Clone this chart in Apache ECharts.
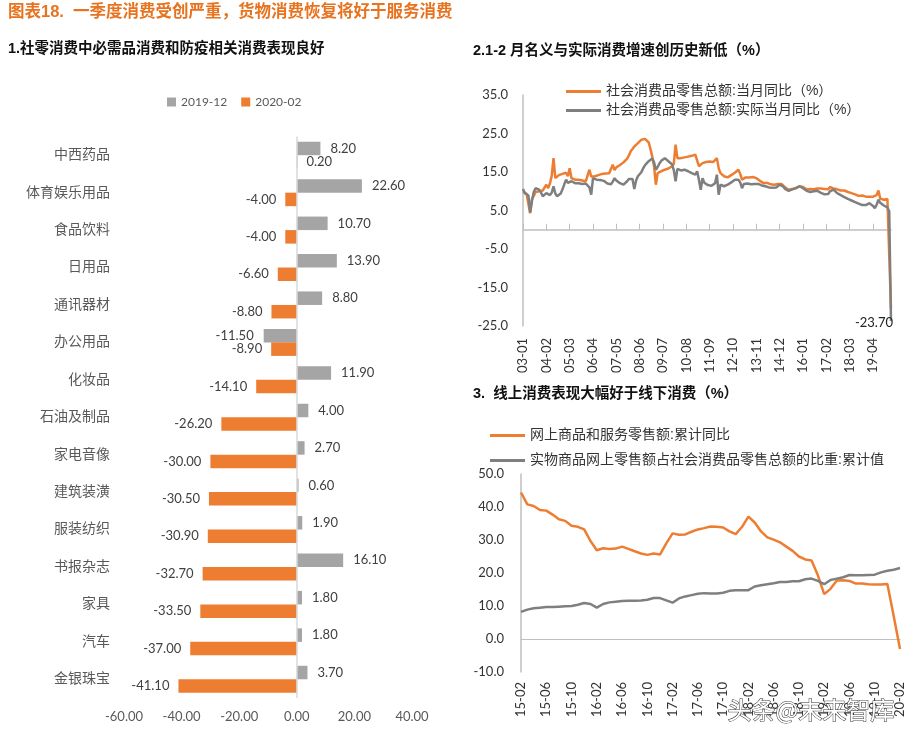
<!DOCTYPE html>
<html>
<head>
<meta charset="utf-8">
<script src="https://cdn.jsdelivr.net/npm/echarts@6/dist/echarts.min.js"></script>
<style>
  html, body { margin: 0; padding: 0; background: #fff; }
  #main { width: 916px; height: 740px; }
</style>
</head>
<body>
<div id="main"></div>
<script>
// 1. 分品类社零增速
var categories = ["中西药品", "体育娱乐用品", "食品饮料", "日用品", "通讯器材", "办公用品", "化妆品",
  "石油及制品", "家电音像", "建筑装潢", "服装纺织", "书报杂志", "家具", "汽车", "金银珠宝"];
var growth201912 = [8.2, 22.6, 10.7, 13.9, 8.8, -11.5, 11.9, 4.0, 2.7, 0.6, 1.9, 16.1, 1.8, 1.8, 3.7];
var growth202002 = [0.2, -4.0, -4.0, -6.6, -8.8, -8.9, -14.1, -26.2, -30.0, -30.5, -30.9, -32.7, -33.5, -37.0, -41.1];

// 2. 社零当月同比 2003-01 ~ 2020-02
var nominalMonthly = [
  10.0, 9.8, 9.3, 9.5, 4.3, 8.0, 8.8, 9.8, 10.2, 10.0,
  9.7, 10.2, 10.5, 11.7, 10.8, 12.0, 14.0, 18.6, 13.4, 13.8,
  14.2, 14.6, 14.5, 14.0, 14.8, 13.9, 16.0, 13.4, 13.0, 13.0,
  12.8, 13.0, 13.0, 12.8, 12.6, 12.6, 12.6, 15.6, 13.8, 14.0,
  13.9, 14.0, 14.2, 14.3, 14.5, 14.5, 14.6, 14.6, 14.7, 15.0,
  16.9, 15.5, 16.2, 16.4, 16.8, 17.1, 17.5, 17.9, 18.5, 19.3,
  20.4, 21.0, 21.6, 21.7, 22.5, 23.0, 23.4, 23.6, 23.6, 23.2,
  22.7, 21.0, 19.0, 16.5, 11.7, 14.7, 15.0, 15.2, 15.4, 15.6,
  15.9, 15.9, 16.2, 16.5, 17.1, 22.1, 18.6, 18.4, 18.6, 18.7,
  18.8, 18.9, 19.0, 18.8, 19.2, 19.1, 19.5, 18.0, 16.5, 17.0,
  17.3, 17.3, 17.6, 17.5, 17.7, 17.7, 17.6, 17.7, 18.6, 16.0,
  14.7, 14.2, 13.9, 13.5, 13.6, 14.0, 14.2, 14.5, 14.8, 15.2,
  15.6, 14.5, 13.0, 13.3, 13.6, 13.6, 13.6, 13.7, 13.7, 13.6,
  13.4, 13.5, 12.7, 12.5, 12.1, 12.3, 12.2, 11.9, 11.8, 11.9,
  11.7, 11.6, 11.9, 12.1, 11.9, 11.6, 11.0, 10.6, 10.4, 10.5,
  10.6, 10.7, 10.8, 11.0, 11.3, 11.2, 11.1, 10.8, 10.5, 10.4,
  10.6, 10.3, 10.5, 10.4, 10.7, 10.8, 10.7, 10.4, 10.6, 10.8,
  10.5, 11.1, 11.0, 10.7, 10.2, 10.5, 10.3, 10.2, 10.1, 10.2,
  10.0, 9.8, 9.7, 9.5, 9.4, 9.2, 9.0, 8.8, 9.0, 8.9,
  8.8, 8.6, 8.5, 8.6, 8.4, 8.6, 8.7, 9.0, 10.2, 8.1,
  7.9, 7.8, 8.0, 8.0, 7.9, -20.5
];
var realMonthly = [
  10.6, 9.5, 9.0, 8.9, 4.5, 7.5, 9.8, 10.8, 10.6, 10.4,
  9.7, 8.7, 8.9, 9.5, 9.2, 9.0, 9.6, 11.3, 9.4, 8.7,
  9.0, 9.4, 10.5, 11.8, 13.0, 12.2, 12.4, 12.6, 12.2, 12.1,
  12.1, 12.1, 11.9, 11.9, 11.7, 12.0, 12.3, 11.0, 9.1, 13.4,
  13.0, 13.0, 13.0, 12.9, 12.8, 12.7, 12.6, 12.0, 11.7, 11.8,
  12.5, 13.4, 12.8, 12.4, 12.1, 11.9, 11.7, 12.0, 12.6, 13.2,
  13.7, 13.2, 10.6, 12.8, 13.9, 14.3, 15.0, 16.0, 16.8, 17.3,
  17.8, 18.2, 18.5, 17.5, 15.6, 16.3, 17.2, 17.9, 18.4, 18.6,
  18.2, 17.8, 17.6, 17.0, 15.5, 12.6, 15.8, 15.6, 15.4, 15.5,
  15.6, 15.4, 15.2, 14.9, 14.7, 14.5, 14.3, 15.2, 13.0, 10.4,
  13.4, 12.2, 12.1, 11.6, 11.3, 11.4, 11.7, 12.1, 14.3, 9.1,
  11.7, 11.5, 11.3, 11.5, 11.7, 12.0, 12.3, 12.5, 13.0, 13.4,
  13.0, 12.3, 10.8, 11.9, 12.1, 12.0, 11.9, 11.8, 11.7, 11.9,
  12.1, 11.9, 11.7, 11.5, 11.3, 11.3, 11.2, 11.0, 10.9, 10.9,
  10.9, 11.0, 11.2, 11.7, 11.5, 11.2, 10.6, 10.3, 10.1, 10.3,
  10.5, 10.7, 10.8, 11.0, 11.3, 11.0, 10.8, 10.4, 10.1, 9.9,
  9.8, 9.9, 10.0, 10.1, 10.1, 9.9, 9.6, 9.5, 9.2, 8.7,
  9.3, 10.0, 10.3, 10.4, 10.0, 9.5, 9.2, 9.0, 8.7, 8.5,
  8.2, 8.0, 7.8, 7.6, 7.4, 7.2, 7.0, 6.8, 6.6, 6.4,
  6.1, 6.4, 6.7, 6.9, 6.6, 6.2, 5.6, 6.5, 7.8, 7.0,
  6.5, 6.3, 6.0, 5.8, 4.8, -23.7
];

// 3. 网上零售 2015-02 ~ 2020-02
var onlineGrowth = [
  44.4, 40.8, 40.3, 39.1, 38.9, 37.7, 36.3, 35.8, 34.3, 34.0,
  33.2, 29.7, 26.9, 27.5, 27.3, 27.4, 28.0, 27.3, 26.6, 25.9,
  25.5, 25.9, 25.6, 29.0, 32.0, 31.6, 31.7, 32.5, 33.2, 33.6,
  34.1, 34.0, 33.8, 32.6, 31.8, 34.0, 37.1, 35.3, 32.6, 30.8,
  30.1, 29.3, 28.0, 26.7, 25.0, 24.1, 23.8, 19.3, 13.6, 15.2,
  17.7, 17.8, 17.6, 16.8, 16.8, 16.6, 16.5, 16.5, 16.7, 7.0,
  -3.0
];
var physicalShare = [
  8.2, 8.9, 9.3, 9.5, 9.7, 9.7, 9.8, 9.9, 10.0, 10.4,
  10.9, 10.6, 9.5, 10.6, 11.1, 11.3, 11.5, 11.6, 11.6, 11.7,
  11.9, 12.4, 12.4, 11.7, 11.0, 12.3, 12.9, 13.3, 13.7, 13.9,
  13.8, 13.8, 14.0, 14.6, 14.8, 14.8, 14.8, 15.9, 16.3, 16.6,
  16.9, 17.3, 17.3, 17.5, 17.5, 18.1, 18.3, 17.6, 16.6, 17.9,
  18.3, 18.7, 19.4, 19.3, 19.3, 19.4, 19.5, 20.2, 20.7, 21.0,
  21.5
];

function monthLabels(year, month, count) {
  var out = [];
  for (var i = 0; i < count; i++) {
    out.push(String(year % 100).padStart(2, "0") + "-" + String(month).padStart(2, "0"));
    month++;
    if (month > 12) { month = 1; year++; }
  }
  return out;
}
var monthsTop = monthLabels(2003, 1, nominalMonthly.length);
var monthsBottom = monthLabels(2015, 2, onlineGrowth.length);

var ORANGE = "#ED7D31";
var BAR_GRAY = "#A5A5A5";
var LINE_GRAY = "#7F7F7F";
var AXIS_GRAY = "#BFBFBF";
var NUM_FONT = "Lato, 'Noto Sans CJK SC', sans-serif";
var CJK_FONT = "'Liberation Sans', 'Noto Sans CJK SC', sans-serif";

function barData(arr) {
  return arr.map(function (v) {
    return { value: v, label: { position: v < 0 ? "left" : "right" } };
  });
}

var chart = echarts.init(document.getElementById("main"));
chart.setOption({
  backgroundColor: "#fff",
  animation: false,
  textStyle: { fontFamily: CJK_FONT },
  title: [
    { text: "图表18.  一季度消费受创严重，货物消费恢复将好于服务消费", left: 8, top: 4, padding: 0,
      textStyle: { color: "#E8731E", fontSize: 16.5, fontWeight: "bold", fontFamily: CJK_FONT } },
    { text: "1.社零消费中必需品消费和防疫相关消费表现良好", left: 8, top: 42, padding: 0,
      textStyle: { color: "#111", fontSize: 14.5, fontWeight: "bold", fontFamily: CJK_FONT } },
    { text: "2.1-2 月名义与实际消费增速创历史新低（%）", left: 473, top: 44, padding: 0,
      textStyle: { color: "#111", fontSize: 14.5, fontWeight: "bold", fontFamily: CJK_FONT } },
    { text: "3.  线上消费表现大幅好于线下消费（%）", left: 473, top: 387, padding: 0,
      textStyle: { color: "#111", fontSize: 14.5, fontWeight: "bold", fontFamily: CJK_FONT } }
  ],
  legend: [
    { data: ["2019-12", "2020-02"], left: 167, top: 96, padding: 0, icon: "rect",
      itemWidth: 9, itemHeight: 9, itemGap: 14,
      textStyle: { fontSize: 12, color: "#595959", fontFamily: NUM_FONT } },
    { data: ["社会消费品零售总额:当月同比（%）", "社会消费品零售总额:实际当月同比（%）"],
      orient: "vertical", left: 566, top: 83, padding: 0, icon: "rect",
      itemWidth: 35, itemHeight: 3, itemGap: 2,
      textStyle: { fontSize: 14, color: "#333", lineHeight: 17, fontFamily: CJK_FONT } },
    { data: ["网上商品和服务零售额:累计同比", "实物商品网上零售额占社会消费品零售总额的比重:累计值"],
      orient: "vertical", left: 490, top: 427, padding: 0, icon: "rect",
      itemWidth: 35, itemHeight: 3, itemGap: 8,
      textStyle: { fontSize: 14, color: "#333", lineHeight: 17, fontFamily: CJK_FONT } }
  ],
  grid: [
    { left: 124, right: 504, top: 136.5, bottom: 42 },
    { left: 523, right: 25, top: 95, bottom: 414 },
    { left: 521, right: 16, top: 474, bottom: 68 }
  ],
  xAxis: [
    { gridIndex: 0, type: "value", min: -60, max: 40, interval: 20,
      axisLine: { show: false }, axisTick: { show: false }, splitLine: { show: false },
      axisLabel: { margin: 12, fontSize: 13, color: "#595959", fontFamily: NUM_FONT,
        formatter: function (v) { return v.toFixed(2); } } },
    { gridIndex: 1, type: "category", data: monthsTop, boundaryGap: false,
      axisLine: { onZero: true, lineStyle: { color: AXIS_GRAY, width: 1.5 } },
      axisTick: { show: true, inside: true, length: 6, interval: 12, lineStyle: { color: AXIS_GRAY } },
      axisLabel: { show: false }, splitLine: { show: false } },
    { gridIndex: 1, type: "category", data: monthsTop, boundaryGap: false, position: "bottom",
      axisLine: { show: false, onZero: false }, axisTick: { show: false },
      axisLabel: { rotate: 90, interval: 12, margin: 12, fontSize: 13, color: "#333", fontFamily: NUM_FONT } },
    { gridIndex: 2, type: "category", data: monthsBottom, boundaryGap: false,
      axisLine: { onZero: true, lineStyle: { color: AXIS_GRAY, width: 1.2 } },
      axisTick: { show: false }, axisLabel: { show: false }, splitLine: { show: false } },
    { gridIndex: 2, type: "category", data: monthsBottom, boundaryGap: false, position: "bottom",
      axisLine: { show: false, onZero: false }, axisTick: { show: false },
      axisLabel: { rotate: 90, interval: 3, margin: 10, fontSize: 13, color: "#333", fontFamily: NUM_FONT } }
  ],
  yAxis: [
    { gridIndex: 0, type: "category", data: categories, inverse: true,
      axisLine: { show: false, onZero: false }, axisTick: { show: false },
      axisLabel: { margin: 14, fontSize: 14, color: "#595959", fontFamily: CJK_FONT } },
    { gridIndex: 1, type: "value", min: -25, max: 35, interval: 10,
      axisLine: { show: true, lineStyle: { color: AXIS_GRAY, width: 1.5 } },
      axisTick: { show: false }, splitLine: { show: false },
      axisLabel: { margin: 15, fontSize: 13, color: "#333", fontFamily: NUM_FONT,
        formatter: function (v) { return v.toFixed(1); } } },
    { gridIndex: 2, type: "value", min: -10, max: 50, interval: 10,
      axisLine: { show: true, lineStyle: { color: AXIS_GRAY, width: 1.5 } },
      axisTick: { show: false }, splitLine: { show: false },
      axisLabel: { margin: 17, fontSize: 13, color: "#333", fontFamily: NUM_FONT,
        formatter: function (v) { return v.toFixed(1); } } }
  ],
  series: [
    { name: "2019-12", type: "bar", xAxisIndex: 0, yAxisIndex: 0, data: barData(growth201912),
      barWidth: 13.5, barGap: "0%", itemStyle: { color: BAR_GRAY },
      label: { show: true, distance: 10, fontSize: 13, color: "#404040", fontFamily: NUM_FONT,
        formatter: function (p) { return p.value.toFixed(2); } },
      markLine: { silent: true, symbol: "none", label: { show: false },
        lineStyle: { color: "#D9D9D9", type: "solid", width: 1.5 }, data: [{ xAxis: 0 }] } },
    { name: "2020-02", type: "bar", xAxisIndex: 0, yAxisIndex: 0, data: barData(growth202002),
      barWidth: 13.5, barGap: "0%", itemStyle: { color: ORANGE },
      label: { show: true, distance: 9, fontSize: 13, color: "#404040", fontFamily: NUM_FONT,
        formatter: function (p) { return p.value.toFixed(2); } } },
    { name: "社会消费品零售总额:当月同比（%）", type: "line", xAxisIndex: 1, yAxisIndex: 1,
      data: nominalMonthly, showSymbol: false, color: ORANGE,
      lineStyle: { width: 2.5, color: ORANGE } },
    { name: "社会消费品零售总额:实际当月同比（%）", type: "line", xAxisIndex: 1, yAxisIndex: 1,
      data: realMonthly, showSymbol: false, color: LINE_GRAY,
      lineStyle: { width: 2.5, color: LINE_GRAY },
      markPoint: { symbol: "circle", symbolSize: 0, data: [{ type: "min" }],
        label: { show: true, position: "left", distance: 0, offset: [2, 2], fontSize: 13, color: "#222",
          fontFamily: NUM_FONT, formatter: function (p) { return p.value.toFixed(2); } } } },
    { name: "网上商品和服务零售额:累计同比", type: "line", xAxisIndex: 3, yAxisIndex: 2,
      data: onlineGrowth, showSymbol: false, color: ORANGE,
      lineStyle: { width: 2.5, color: ORANGE } },
    { name: "实物商品网上零售额占社会消费品零售总额的比重:累计值", type: "line", xAxisIndex: 3, yAxisIndex: 2,
      data: physicalShare, showSymbol: false, color: LINE_GRAY,
      lineStyle: { width: 2.5, color: LINE_GRAY } }
  ],
  graphic: [
    { type: "text", left: 727, top: 697, z: 100,
      style: { text: "头条@未来智库", font: "24px 'Noto Sans CJK SC'", fill: "#fff", stroke: "#333", lineWidth: 1 } }
  ]
});
</script>
</body>
</html>
